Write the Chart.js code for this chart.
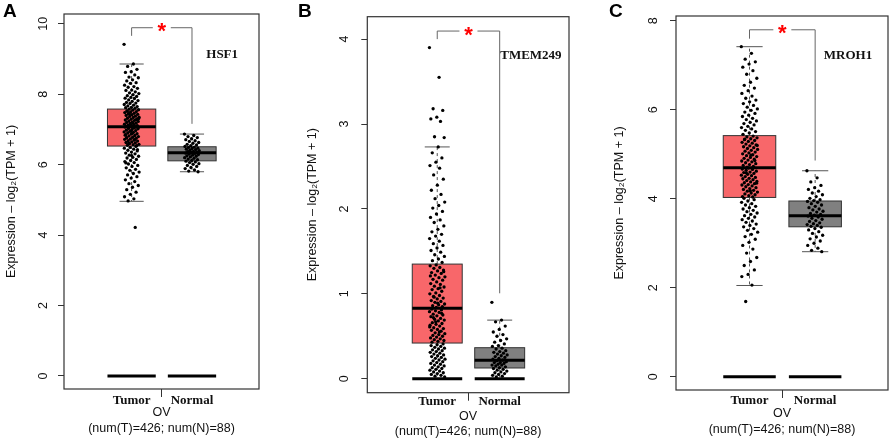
<!DOCTYPE html>
<html>
<head>
<meta charset="utf-8">
<script src="https://cdn.jsdelivr.net/npm/chart.js@4.4.1/dist/chart.umd.min.js"></script>
<style>
  html, body { margin: 0; padding: 0; background: #fff; }
  #wrap { position: relative; width: 892px; height: 443px; overflow: hidden; }
  #wrap canvas { position: absolute; top: 0; }
</style>
</head>
<body>
<div id="wrap">
  <canvas id="panelA" width="296" height="443" style="left:0px"></canvas>
  <canvas id="panelB" width="296" height="443" style="left:296px"></canvas>
  <canvas id="panelC" width="300" height="443" style="left:592px"></canvas>
</div>
<script>
// Categories and where they sit on the x scale
const groups = ['Tumor', 'Normal']
const groupAt = [1, 2]
const boxColors = ['#f8676a', '#808080']

// Box statistics per group: [lower whisker, Q1, median, Q3, upper whisker]
const hsf1Box = [[4.96, 6.53, 7.08, 7.58, 8.86], [5.80, 6.11, 6.34, 6.51, 6.87]]
const tmem249Box = [[0, 0.42, 0.83, 1.35, 2.73], [0, 0.126, 0.217, 0.365, 0.69]]
const mroh1Box = [[2.05, 4.03, 4.70, 5.42, 7.42], [2.81, 3.37, 3.62, 3.95, 4.63]]

// Significance brackets: [left leg end, bar level, right leg end]
const hsf1Bracket = [9.66, 9.89, 7.16]
const tmem249Bracket = [4.0, 4.095, 1.006]
const mroh1Bracket = [7.60, 7.80, 4.86]

// Y tick labels
const hsf1Ticks = [0, 2, 4, 6, 8, 10]
const tmem249Ticks = [0, 1, 2, 3, 4]
const mroh1Ticks = [0, 2, 4, 6, 8]

// Expression values (a sample of each cloud)
const hsf1Tumor = [
  9.42, 8.86, 8.79, 8.71, 8.64, 8.62, 8.55, 8.49, 8.47, 8.41, 8.38, 8.33, 8.31, 8.26, 8.22, 8.20, 8.17, 8.12, 8.11, 8.07,
  8.04, 8.02, 7.99, 7.96, 7.94, 7.91, 7.89, 7.88, 7.84, 7.82, 7.80, 7.77, 7.75, 7.74, 7.71, 7.69, 7.67, 7.65, 7.63, 7.62, 7.60,
  7.58, 7.56, 7.55, 7.53, 7.51, 7.50, 7.48, 7.46, 7.45, 7.43, 7.42, 7.40, 7.38, 7.37, 7.35, 7.34, 7.32, 7.30, 7.29, 7.27,
  7.26, 7.24, 7.23, 7.21, 7.20, 7.18, 7.17, 7.15, 7.14, 7.12, 7.11, 7.10, 7.09, 7.08, 7.44, 7.31, 7.19, 7.52, 7.28, 7.13,
  7.07, 7.05, 7.03, 7.02, 7.00, 6.98, 6.97, 6.95, 6.93, 6.92, 6.90, 6.88, 6.87, 6.85, 6.83, 6.82, 6.80, 6.78, 6.77, 6.75,
  6.73, 6.72, 6.70, 6.68, 6.67, 6.65, 6.63, 6.62, 6.60, 6.58, 6.57, 6.55, 6.54, 6.96, 6.84, 6.71, 6.61, 7.04, 6.89, 6.76,
  6.52, 6.49, 6.47, 6.44, 6.41, 6.39, 6.36, 6.33, 6.31, 6.27, 6.24, 6.21, 6.19, 6.15, 6.12, 6.09, 6.06, 6.02, 5.98, 5.95,
  5.91, 5.87, 5.84, 5.79, 5.75, 5.71, 5.66, 5.62, 5.57, 5.52, 5.46, 5.41, 5.36, 5.29, 5.22, 5.16, 5.09, 5.03, 4.97, 6.43,
  6.26, 6.05, 4.22
]
const hsf1Normal = [
  6.87, 6.83, 6.80, 6.77, 6.74, 6.71, 6.68, 6.66, 6.63, 6.61, 6.58, 6.56, 6.54, 6.52, 6.50, 6.49, 6.47, 6.46, 6.44, 6.43,
  6.41, 6.40, 6.38, 6.37, 6.36, 6.35, 6.33, 6.32, 6.30, 6.29, 6.27, 6.25, 6.24, 6.22, 6.20, 6.18, 6.16, 6.14, 6.12, 6.10,
  6.08, 6.06, 6.03, 6.01, 5.98, 5.95, 5.92, 5.89, 5.85, 5.82, 5.80
]
const tmem249Tumor = [
  3.90, 3.55, 3.18, 3.16, 3.08, 3.06, 3.03, 2.85, 2.84,
  2.73, 2.66, 2.60, 2.55, 2.51, 2.48, 2.40, 2.35, 2.28, 2.22, 2.17, 2.12, 2.08, 2.04, 2.01, 1.97, 1.94, 1.90, 1.87, 1.84,
  1.80, 1.76, 1.73, 1.70, 1.68, 1.65, 1.62, 1.59, 1.57, 1.54, 1.51, 1.49, 1.46, 1.44, 1.41, 1.39, 1.37,
  1.34, 1.33, 1.31, 1.30, 1.28, 1.27, 1.25, 1.24, 1.22, 1.20, 1.19, 1.17, 1.16, 1.14, 1.12, 1.11, 1.09, 1.08, 1.06, 1.05,
  1.03, 1.01, 1.00, 0.98, 0.97, 0.95, 0.94, 0.92, 0.91, 0.90, 0.88, 0.87, 0.86, 0.85, 0.84, 1.21, 1.07, 0.96, 1.26, 0.89,
  0.82, 0.81, 0.80, 0.79, 0.78, 0.76, 0.75, 0.74, 0.73, 0.71, 0.70, 0.69, 0.68, 0.66, 0.65, 0.64, 0.63, 0.62, 0.60, 0.59,
  0.58, 0.57, 0.56, 0.54, 0.53, 0.52, 0.51, 0.50, 0.49, 0.48, 0.47, 0.46, 0.45, 0.44, 0.43, 0.77, 0.67, 0.61, 0.55, 0.72,
  0.41, 0.40, 0.39, 0.38, 0.37, 0.36, 0.35, 0.34, 0.33, 0.32, 0.31, 0.30, 0.29, 0.28, 0.27, 0.26, 0.25, 0.24, 0.23, 0.22,
  0.21, 0.20, 0.19, 0.18, 0.17, 0.16, 0.15, 0.14, 0.13, 0.12, 0.11, 0.10, 0.09, 0.08, 0.07, 0.06, 0.05, 0.04, 0.03, 0.02
]
const tmem249Normal = [
  0.90, 0.69, 0.67, 0.62, 0.58, 0.55, 0.52, 0.50, 0.47, 0.45, 0.43, 0.41, 0.39, 0.38, 0.36, 0.35, 0.33, 0.32, 0.31, 0.30,
  0.29, 0.28, 0.27, 0.26, 0.25, 0.24, 0.23, 0.22, 0.21, 0.20, 0.19, 0.19, 0.18, 0.17, 0.16, 0.16, 0.15, 0.14, 0.13, 0.12,
  0.11, 0.10, 0.09, 0.08, 0.07, 0.06, 0.05, 0.04, 0.03, 0.02
]
const mroh1Tumor = [
  7.42, 7.27, 7.14, 7.08, 7.03, 6.96, 6.88, 6.80, 6.71, 6.62, 6.55, 6.49, 6.43, 6.37, 6.31, 6.26, 6.22, 6.18, 6.14, 6.10,
  6.06, 6.02, 5.99, 5.95, 5.92, 5.88, 5.85, 5.81, 5.78, 5.75, 5.72, 5.69, 5.66, 5.63, 5.60, 5.57, 5.54, 5.51, 5.48, 5.45,
  5.41, 5.39, 5.37, 5.35, 5.33, 5.31, 5.29, 5.27, 5.25, 5.23, 5.21, 5.19, 5.17, 5.15, 5.13, 5.11, 5.09, 5.07, 5.05, 5.03,
  5.01, 4.99, 4.97, 4.95, 4.93, 4.91, 4.89, 4.87, 4.85, 4.83, 4.81, 4.79, 4.77, 4.75, 4.73, 4.71, 5.20, 4.98, 5.34, 4.86,
  4.69, 4.67, 4.66, 4.64, 4.62, 4.60, 4.59, 4.57, 4.55, 4.53, 4.52, 4.50, 4.48, 4.46, 4.45, 4.43, 4.41, 4.39, 4.38, 4.36,
  4.34, 4.32, 4.31, 4.29, 4.27, 4.25, 4.23, 4.21, 4.19, 4.17, 4.15, 4.13, 4.11, 4.09, 4.07, 4.05, 4.04, 4.58, 4.35, 4.18,
  4.01, 3.98, 3.95, 3.92, 3.89, 3.86, 3.83, 3.80, 3.77, 3.74, 3.71, 3.68, 3.65, 3.62, 3.59, 3.56, 3.53, 3.50, 3.47, 3.43,
  3.40, 3.37, 3.33, 3.29, 3.25, 3.20, 3.15, 3.09, 3.02, 2.95, 2.87, 2.78, 2.68, 2.59, 2.50, 2.40, 2.30, 2.25, 2.06, 1.69
]
const mroh1Normal = [
  4.63, 4.47, 4.38, 4.30, 4.25, 4.21, 4.17, 4.13, 4.09, 4.05, 4.01, 3.98, 3.96, 3.94, 3.92, 3.89, 3.86, 3.83, 3.80, 3.77,
  3.75, 3.72, 3.70, 3.67, 3.65, 3.63, 3.61, 3.59, 3.56, 3.54, 3.51, 3.49, 3.46, 3.44, 3.42, 3.40, 3.38, 3.36, 3.33, 3.30,
  3.26, 3.22, 3.18, 3.14, 3.10, 3.05, 3.00, 2.95, 2.89, 2.84, 2.81
]

const SANS = "'Liberation Sans', Arial, sans-serif"
const SERIF = "'Liberation Serif', 'Times New Roman', serif"

// spread the points sideways a little, like R's jitter (deterministic)
function jittered(values, at) {
  return values.map((v, i) => ({ x: at + ((i * 0.6180339887) % 1 - 0.5) * 0.25, y: v }))
}

function boxPlugin(cfg) {
  return {
    id: 'boxes',
    beforeDatasetsDraw(chart) {
      const { ctx, scales: { x, y } } = chart
      const seg = (x1, y1, x2, y2) => { ctx.beginPath(); ctx.moveTo(x1, y1); ctx.lineTo(x2, y2); ctx.stroke() }
      cfg.box.forEach((s, i) => {
        const c = groupAt[i]
        const [lo, q1, med, q3, hi] = s.map(v => y.getPixelForValue(v))
        const l = x.getPixelForValue(c - 0.4), r = x.getPixelForValue(c + 0.4)
        const cl = x.getPixelForValue(c - 0.2), cr = x.getPixelForValue(c + 0.2)
        const px = x.getPixelForValue(c)
        const y0 = y.getPixelForValue(0)
        ctx.save()
        // whiskers
        ctx.strokeStyle = '#555'
        ctx.lineWidth = 1
        ctx.setLineDash([3, 3])
        seg(px, q3, px, hi)
        seg(px, q1, px, lo)
        ctx.setLineDash([])
        seg(cl, hi, cr, hi)
        seg(cl, lo, cr, lo)
        // box
        ctx.fillStyle = boxColors[i]
        ctx.fillRect(l, q3, r - l, q1 - q3)
        ctx.strokeStyle = '#333'
        ctx.strokeRect(l, q3, r - l, q1 - q3)
        // median and the zero bar
        ctx.strokeStyle = '#000'
        ctx.lineWidth = 3
        seg(l, med, r, med)
        seg(l, y0, r, y0)
        ctx.restore()
      })
    }
  }
}

function decorPlugin(cfg) {
  return {
    id: 'decor',
    afterDraw(chart) {
      const { ctx, chartArea: a, scales: { x, y } } = chart
      ctx.save()
      // frame
      ctx.strokeStyle = '#333'
      ctx.lineWidth = 1.2
      ctx.strokeRect(a.left, a.top, a.right - a.left, a.bottom - a.top)
      // bracket with star
      const xl = x.getPixelForValue(groupAt[0]), xr = x.getPixelForValue(groupAt[1])
      const xm = x.getPixelForValue(1.5)
      const [legL, bar, legR] = cfg.bracket.map(v => y.getPixelForValue(v))
      ctx.strokeStyle = '#666'
      ctx.lineWidth = 1
      ctx.beginPath()
      ctx.moveTo(xl, legL); ctx.lineTo(xl, bar); ctx.lineTo(xm - 9, bar)
      ctx.moveTo(xm + 9, bar); ctx.lineTo(xr, bar); ctx.lineTo(xr, legR)
      ctx.stroke()
      ctx.fillStyle = '#ff0000'
      ctx.font = 'bold 22px ' + SANS
      ctx.textAlign = 'center'
      ctx.textBaseline = 'alphabetic'
      const m = ctx.measureText('*')
      ctx.fillText('*', xm, bar + (m.actualBoundingBoxAscent - m.actualBoundingBoxDescent) / 2)
      // gene name
      ctx.fillStyle = '#111'
      ctx.font = 'bold 13px ' + SERIF
      ctx.textBaseline = 'middle'
      ctx.fillText(cfg.gene, x.getPixelForValue(2.5), y.getPixelForValue(cfg.geneY))
      // panel letter
      ctx.font = 'bold 19px ' + SANS
      ctx.textAlign = 'left'
      ctx.fillStyle = '#000'
      ctx.fillText(cfg.letter, cfg.letterX, 12)
      ctx.restore()
    }
  }
}

function drawPanel(id, cfg) {
  const ctx = document.getElementById(id).getContext('2d')
  new Chart(ctx, {
    type: 'scatter',
    data: {
      datasets: [
        { data: jittered(cfg.tumor, groupAt[0]) },
        { data: jittered(cfg.normal, groupAt[1]) }
      ]
    },
    options: {
      responsive: false,
      animation: false,
      events: [],
      layout: { padding: { left: 0, right: cfg.padRight, top: cfg.padTop, bottom: 0 } },
      elements: {
        point: { radius: 1.65, backgroundColor: '#000', borderWidth: 0, hoverRadius: 1.65 }
      },
      plugins: { legend: { display: false }, tooltip: { enabled: false } },
      scales: {
        x: {
          type: 'linear',
          min: -0.12,
          max: 3.11,
          border: { display: false },
          grid: {
            drawOnChartArea: false,
            tickLength: 8,
            color: c => (c.tick && c.tick.value === 1.5 ? '#333' : 'rgba(0,0,0,0)')
          },
          afterBuildTicks: s => { s.ticks = [1, 1.5, 2].map(v => ({ value: v })) },
          afterFit: s => { s.height = cfg.xHeight; s.paddingLeft = 0; s.paddingRight = 0 },
          ticks: {
            color: '#111',
            padding: cfg.xTickPad,
            maxRotation: 0,
            font: { family: SERIF, size: 13, weight: 'bold', lineHeight: 1.2 },
            callback: v => (v === 1 ? groups[0] : v === 2 ? groups[1] : '')
          },
          title: {
            display: true,
            text: ['OV', '(num(T)=426; num(N)=88)'],
            color: '#111',
            padding: { top: 0, bottom: cfg.xTitlePad },
            font: { family: SANS, size: 12.5, lineHeight: 1.24 }
          }
        },
        y: {
          min: cfg.yMin,
          max: cfg.yMax,
          border: { display: false },
          grid: { drawOnChartArea: false, tickLength: 6, color: '#333' },
          afterBuildTicks: s => { s.ticks = cfg.ticks.map(v => ({ value: v })) },
          afterFit: s => { s.width = cfg.yWidth; s.paddingTop = 0; s.paddingBottom = 0 },
          ticks: {
            color: '#111',
            minRotation: 90,
            maxRotation: 90,
            crossAlign: 'center',
            padding: cfg.yTickPad,
            font: { family: SANS, size: 12.5 }
          },
          title: {
            display: true,
            text: 'Expression \u2013 log\u2082(TPM + 1)',
            color: '#111',
            padding: { top: cfg.yTitlePad, bottom: 0 },
            font: { family: SANS, size: 12.5, lineHeight: 1.2 }
          }
        }
      }
    },
    plugins: [boxPlugin(cfg), decorPlugin(cfg)]
  })
}

drawPanel('panelA', {
  tumor: hsf1Tumor, normal: hsf1Normal, box: hsf1Box, bracket: hsf1Bracket, ticks: hsf1Ticks,
  gene: 'HSF1', geneY: 9.12, letter: 'A', letterX: 3,
  yMin: -0.37, yMax: 10.28,
  yWidth: 64, padTop: 14, padRight: 37, xHeight: 54,
  yTickPad: 8, yTitlePad: 4.5, xTickPad: -4.5, xTitlePad: 7
})
drawPanel('panelB', {
  tumor: tmem249Tumor, normal: tmem249Normal, box: tmem249Box, bracket: tmem249Bracket, ticks: tmem249Ticks,
  gene: 'TMEM249', geneY: 3.80, letter: 'B', letterX: 2,
  yMin: -0.165, yMax: 4.264,
  yWidth: 71.3, padTop: 16.7, padRight: 23, xHeight: 50.3,
  yTickPad: 13.5, yTitlePad: 9, xTickPad: -6.5, xTitlePad: 3.5
})
drawPanel('panelC', {
  tumor: mroh1Tumor, normal: mroh1Normal, box: mroh1Box, bracket: mroh1Bracket, ticks: mroh1Ticks,
  gene: 'MROH1', geneY: 7.21, letter: 'C', letterX: 17,
  yMin: -0.30, yMax: 8.11,
  yWidth: 84, padTop: 16, padRight: 4, xHeight: 53,
  yTickPad: 12.5, yTitlePad: 20.5, xTickPad: -5.5, xTitlePad: 6
})
</script>
</body>
</html>
